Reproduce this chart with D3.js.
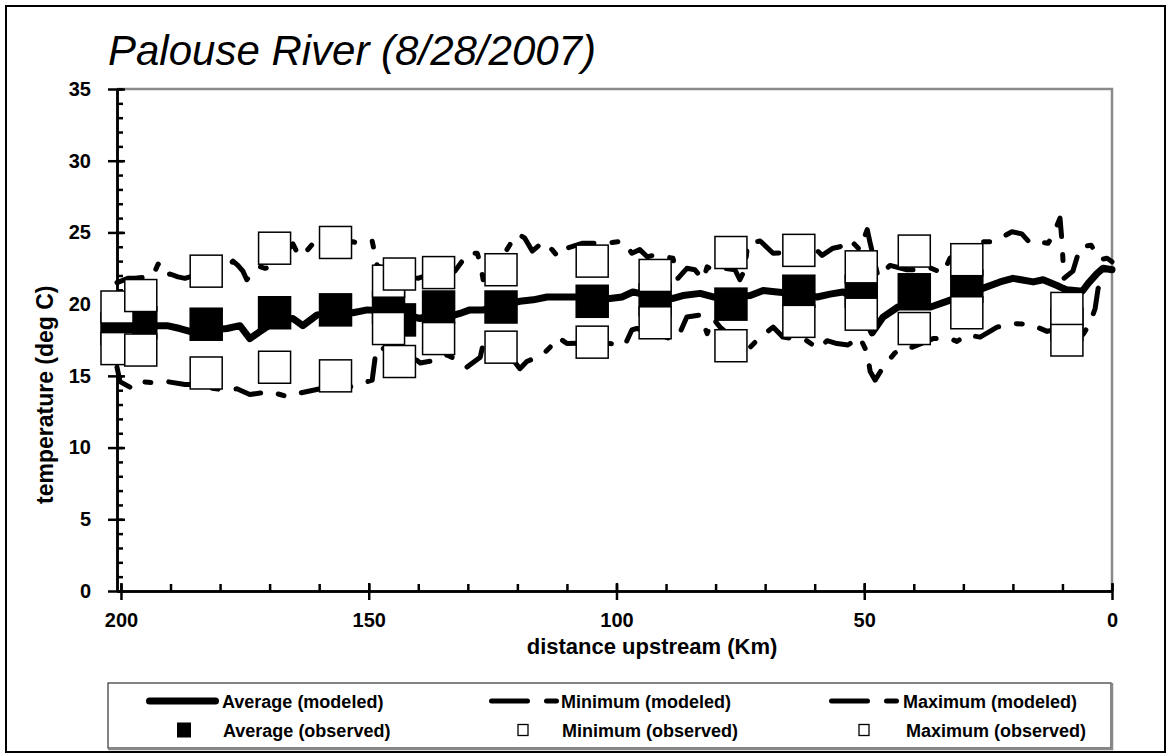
<!DOCTYPE html>
<html>
<head>
<meta charset="utf-8">
<script src="https://cdn.jsdelivr.net/npm/d3@7"></script>
<style>
  html, body { margin: 0; padding: 0; background: #fff; }
  svg { display: block; }
  text { font-family: 'Liberation Sans', Arial, sans-serif; fill: #000; }
</style>
</head>
<body>
<svg id="chart" width="1171" height="754"></svg>
<script>
// Observation stations (distance upstream, km) and observed temperatures (deg C)
const stationKm   = [200.8, 196.0, 182.8, 169.0, 156.7, 146.0, 143.8, 135.9, 123.3, 104.9, 92.2, 76.9, 63.2, 50.6, 39.9, 29.3, 9.1];
const avgObserved = [18.3, 18.7, 18.6, 19.4, 19.6, 19.8, 18.9, 19.8, 19.8, 20.2, 20.3, 20.0, 20.9, 20.9, 21.0, 21.25, 18.6];
const minObserved = [16.9, 16.8, 15.2, 15.6, 15.0, 18.3, 16.0, 17.6, 17.0, 17.35, 18.7, 17.1, 18.8, 19.3, 18.3, 19.4, 17.5];
const maxObserved = [19.8, 20.6, 22.3, 23.9, 24.3, 21.6, 22.1, 22.2, 22.4, 23.0, 22.0, 23.6, 23.75, 22.6, 23.7, 23.1, 19.7];

// Modeled profiles: [distance upstream (km), temperature (deg C)]
const avgModeled = [
  [200.8,18.3],[192.7,18.5],[190.7,18.5],[188.1,18.3],[186.1,18.1],[182.0,18.2],[178.6,18.3],[176.0,18.5],
  [174.0,17.6],[171.9,18.1],[168.9,18.8],[165.3,19.0],[163.3,18.5],[160.4,19.25],[156.8,19.4],[153.2,19.4],
  [150.3,19.6],[145.7,19.5],[139.6,19.0],[138.2,19.2],[132.6,19.25],[131.6,19.35],[129.6,19.6],[126.9,19.6],
  [123.5,19.9],[119.5,20.2],[116.8,20.3],[114.0,20.5],[111.4,20.5],[108.8,20.5],[104.9,20.5],[101.3,20.4],
  [98.9,20.5],[96.7,20.85],[92.2,20.5],[88.6,20.4],[86.6,20.6],[83.1,20.75],[80.5,20.5],[76.9,20.5],
  [73.0,20.6],[70.4,20.95],[67.6,20.85],[63.2,20.7],[59.5,20.5],[56.9,20.7],[54.3,20.85],[51.3,20.3],
  [48.4,18.0],[46.2,19.1],[43.2,19.8],[39.9,19.8],[36.6,19.8],[32.5,20.3],[29.3,20.7],[26.1,21.1],
  [22.6,21.55],[20.0,21.8],[15.9,21.55],[13.9,21.7],[11.1,21.3],[9.9,21.1],[9.1,21.0],[6.0,20.9],
  [4.8,21.45],[3.0,22.15],[1.8,22.5],[0.0,22.4]
];
const minModeled = [
  [200.8,15.6],[200.2,14.6],[197.6,14.1],[195.8,14.6],[192.7,14.5],[190.7,14.6],[187.1,14.4],[186.1,14.4],
  [182.8,14.2],[179.0,14.0],[176.6,14.1],[174.0,13.7],[171.9,13.8],[169.9,13.9],[167.9,13.7],[166.5,13.55],
  [163.9,13.8],[161.2,14.0],[159.8,14.1],[156.8,14.2],[153.4,14.25],[151.2,14.5],[149.3,14.7],[148.7,16.3],
  [148.3,17.0],[145.7,16.8],[142.7,16.3],[140.3,16.1],[139.6,15.9],[136.2,16.1],[134.2,16.45],[132.6,16.2],
  [130.2,15.6],[127.5,16.3],[126.9,17.25],[123.5,17.3],[119.5,15.5],[118.1,16.0],[115.0,16.45],[113.4,17.0],
  [111.8,17.7],[110.0,17.25],[105.3,17.3],[101.3,17.25],[98.3,17.15],[96.9,18.2],[95.9,18.3],[92.2,18.0],
  [89.2,17.6],[87.6,17.7],[85.8,19.1],[83.1,19.25],[81.7,17.95],[80.5,19.0],[79.1,18.4],[76.1,17.5],
  [73.0,17.0],[71.6,17.5],[68.4,18.4],[66.4,17.7],[62.4,17.5],[61.8,17.5],[59.3,16.9],[57.5,17.45],
  [55.5,17.25],[53.3,17.15],[50.9,17.7],[49.4,16.6],[48.8,15.3],[47.8,14.7],[46.2,15.6],[43.8,16.6],
  [41.8,17.0],[40.3,17.0],[36.1,17.6],[32.7,17.6],[31.3,17.4],[29.3,17.85],[26.6,17.7],[23.2,18.4],
  [20.0,18.65],[16.5,18.6],[13.1,18.1],[11.9,18.2],[9.1,18.0],[5.8,17.9],[4.4,18.7],[3.4,19.7],
  [2.8,21.1],[1.4,21.7],[0.0,21.7]
];
const maxModeled = [
  [200.8,21.5],[198.6,21.8],[197.2,21.8],[194.5,21.9],[193.5,22.0],[192.5,22.8],[191.7,22.5],[191.1,22.0],
  [190.1,22.1],[188.5,21.9],[187.1,21.8],[186.1,21.9],[182.8,22.0],[179.4,22.3],[178.4,22.6],[177.4,23.0],
  [176.4,22.7],[175.4,22.3],[174.6,21.7],[173.0,22.4],[171.9,22.6],[170.9,22.5],[169.3,22.6],[167.3,23.4],
  [165.3,24.2],[164.3,23.5],[163.3,23.35],[162.3,23.8],[161.2,24.25],[160.2,24.3],[156.8,24.3],[153.2,24.35],
  [152.2,24.25],[150.8,24.3],[149.3,24.4],[148.3,22.7],[144.7,22.0],[140.7,21.9],[140.1,21.8],[135.6,22.3],
  [132.6,22.3],[130.0,23.55],[128.1,23.55],[127.5,22.85],[126.9,21.7],[123.5,23.0],[120.9,24.5],[119.9,24.9],
  [118.5,24.6],[117.0,23.7],[114.8,24.35],[113.0,23.8],[111.8,23.3],[110.0,23.9],[106.8,24.25],[103.3,24.25],
  [100.9,24.3],[98.7,24.4],[96.9,23.55],[95.3,23.8],[93.8,23.3],[92.6,23.4],[90.2,23.3],[88.6,23.2],
  [87.6,21.8],[85.8,22.5],[84.2,22.4],[82.5,21.7],[81.7,22.6],[80.7,22.4],[78.1,22.5],[76.1,22.4],
  [75.1,21.7],[74.1,22.4],[73.5,24.25],[71.0,24.4],[68.4,23.55],[65.0,23.6],[60.3,24.0],[58.5,23.4],
  [56.3,23.9],[54.9,24.0],[52.9,24.5],[50.9,23.8],[49.4,25.2],[48.8,24.25],[47.2,21.9],[44.8,22.7],
  [41.4,22.4],[39.1,22.4],[36.5,22.5],[34.1,22.15],[32.7,23.2],[29.7,23.8],[27.2,24.35],[24.0,24.35],
  [22.0,24.7],[20.2,25.05],[18.2,24.9],[16.5,24.25],[14.9,24.35],[12.9,24.25],[11.9,24.8],[10.5,26.0],
  [10.1,24.4],[9.7,21.8],[7.9,22.3],[6.4,24.0],[4.2,24.1],[2.4,23.1],[1.0,23.2],[0.0,22.95]
];

// Axis ticks
const yMajorTicks = [0, 5, 10, 15, 20, 25, 30, 35];
const yMinorTicks = d3.range(0, 36, 1);
const xMajorTicks = [200, 150, 100, 50, 0];
const xMinorTicks = d3.range(0, 201, 10);

const titleText = "Palouse River (8/28/2007)";
const xTitle = "distance upstream (Km)";
const yTitle = "temperature (deg C)";
const legendLabels = [
  "Average (modeled)", "Minimum (modeled)", "Maximum (modeled)",
  "Average (observed)", "Minimum (observed)", "Maximum (observed)"
];

// ---- layout ----
const plot = { left: 117, right: 1112, top: 89, bottom: 591 };
const svg = d3.select("#chart");

const x = d3.scaleLinear().domain([200.8, 0]).range([plot.left, plot.right]);
const y = d3.scaleLinear().domain([0, 35]).range([plot.bottom, plot.top]);

// outer chart frame
svg.append("rect")
  .attr("x", 6).attr("y", 6).attr("width", 1159).attr("height", 746)
  .attr("fill", "#fff").attr("stroke", "#000").attr("stroke-width", 2);

// plot area frame (top and right edges in grey)
svg.append("path")
  .attr("d", `M${plot.left},${plot.top}H${plot.right}V${plot.bottom}`)
  .attr("fill", "none").attr("stroke", "#8a8a8a").attr("stroke-width", 2.5);

// title
svg.append("text")
  .attr("x", 108).attr("y", 65)
  .attr("font-size", 42).attr("font-style", "italic")
  .text(titleText);

// ---- axes ----
const axisStyle = g => {
  g.select(".domain").attr("stroke", "#000").attr("stroke-width", 2.5);
  g.selectAll(".tick line").attr("stroke", "#000").attr("stroke-width", 2.5);
  g.selectAll(".tick text").attr("font-size", 20).attr("font-weight", "bold")
    .attr("font-family", "'Liberation Sans', Arial, sans-serif").attr("fill", "#000");
};

// y axis: inner minor ticks, then major ticks with labels
svg.append("g").attr("transform", `translate(${plot.left},0)`)
  .call(d3.axisRight(y).tickValues(yMinorTicks).tickSize(6).tickSizeOuter(0).tickFormat(""))
  .call(axisStyle);
svg.append("g").attr("transform", `translate(${plot.left},0)`)
  .call(d3.axisLeft(y).tickValues(yMajorTicks).tickSize(9).tickSizeOuter(0).tickPadding(17))
  .call(g => g.selectAll(".tick line").attr("x2", 8).attr("x1", -9))
  .call(axisStyle);

// x axis: inner minor ticks, then major ticks with labels
svg.append("g").attr("transform", `translate(0,${plot.bottom})`)
  .call(d3.axisTop(x).tickValues(xMinorTicks).tickSize(7).tickSizeOuter(0).tickFormat(""))
  .call(axisStyle);
svg.append("g").attr("transform", `translate(0,${plot.bottom})`)
  .call(d3.axisBottom(x).tickValues(xMajorTicks).tickSize(9).tickSizeOuter(0).tickPadding(13))
  .call(g => g.selectAll(".tick line").attr("y1", -8))
  .call(axisStyle);

// axis titles
svg.append("text")
  .attr("transform", "translate(53,504) rotate(-90)")
  .attr("text-anchor", "start").attr("font-size", 23).attr("font-weight", "bold")
  .text(yTitle);
svg.append("text")
  .attr("x", 652).attr("y", 654)
  .attr("text-anchor", "middle").attr("font-size", 22).attr("font-weight", "bold")
  .text(xTitle);

// ---- series ----
const line = d3.line().x(d => x(d[0])).y(d => y(d[1]));
const dashPattern = "26,18,6,18";

svg.append("path").datum(avgModeled)
  .attr("d", line).attr("fill", "none").attr("stroke", "#000")
  .attr("stroke-width", 7).attr("stroke-linejoin", "round").attr("stroke-linecap", "round");
svg.append("path").datum(minModeled)
  .attr("d", line).attr("fill", "none").attr("stroke", "#000")
  .attr("stroke-width", 5).attr("stroke-linejoin", "round").attr("stroke-linecap", "round")
  .attr("stroke-dasharray", dashPattern);
svg.append("path").datum(maxModeled)
  .attr("d", line).attr("fill", "none").attr("stroke", "#000")
  .attr("stroke-width", 5).attr("stroke-linejoin", "round").attr("stroke-linecap", "round")
  .attr("stroke-dasharray", dashPattern);

const markerSize = 32;
function squares(values, fill) {
  svg.append("g").selectAll("rect")
    .data(stationKm.map((km, i) => [km, values[i]]))
    .join("rect")
    .attr("x", d => x(d[0]) - markerSize / 2)
    .attr("y", d => y(d[1]) - markerSize / 2)
    .attr("width", markerSize).attr("height", markerSize)
    .attr("fill", fill).attr("stroke", "#000").attr("stroke-width", 1.5);
}
squares(avgObserved, "#000");
squares(minObserved, "#fff");
squares(maxObserved, "#fff");

// ---- legend ----
const legend = svg.append("g");
legend.append("rect")
  .attr("x", 108).attr("y", 683).attr("width", 1003).attr("height", 65)
  .attr("fill", "#fff").attr("stroke", "#333").attr("stroke-width", 1.2);
legend.append("path")
  .attr("d", "M108,749H1112V683")
  .attr("fill", "none").attr("stroke", "#888").attr("stroke-width", 2.5);

const row1 = 701, row2 = 730;
legend.append("line")
  .attr("x1", 149.5).attr("x2", 215.5).attr("y1", row1).attr("y2", row1)
  .attr("stroke", "#000").attr("stroke-width", 7).attr("stroke-linecap", "round");
[491.5, 831.5].forEach(x0 => {
  legend.append("line")
    .attr("x1", x0).attr("x2", x0 + 65).attr("y1", row1).attr("y2", row1)
    .attr("stroke", "#000").attr("stroke-width", 5).attr("stroke-linecap", "round")
    .attr("stroke-dasharray", "36,19,10,100");
});
legend.append("rect").attr("x", 177).attr("y", row2 - 7.5).attr("width", 14).attr("height", 15)
  .attr("fill", "#000");
[523, 864].forEach(cx => {
  legend.append("rect").attr("x", cx - 5).attr("y", row2 - 5.5).attr("width", 10).attr("height", 11)
    .attr("fill", "#fff").attr("stroke", "#000").attr("stroke-width", 1.3);
});

const legendTextX = [222, 561, 903, 223, 562, 906];
legend.selectAll("text.leg").data(legendLabels).join("text")
  .attr("class", "leg")
  .attr("x", (d, i) => legendTextX[i])
  .attr("y", (d, i) => (i < 3 ? row1 : row2) + 6.5)
  .attr("font-size", 18).attr("font-weight", "bold")
  .text(d => d);
</script>
</body>
</html>
